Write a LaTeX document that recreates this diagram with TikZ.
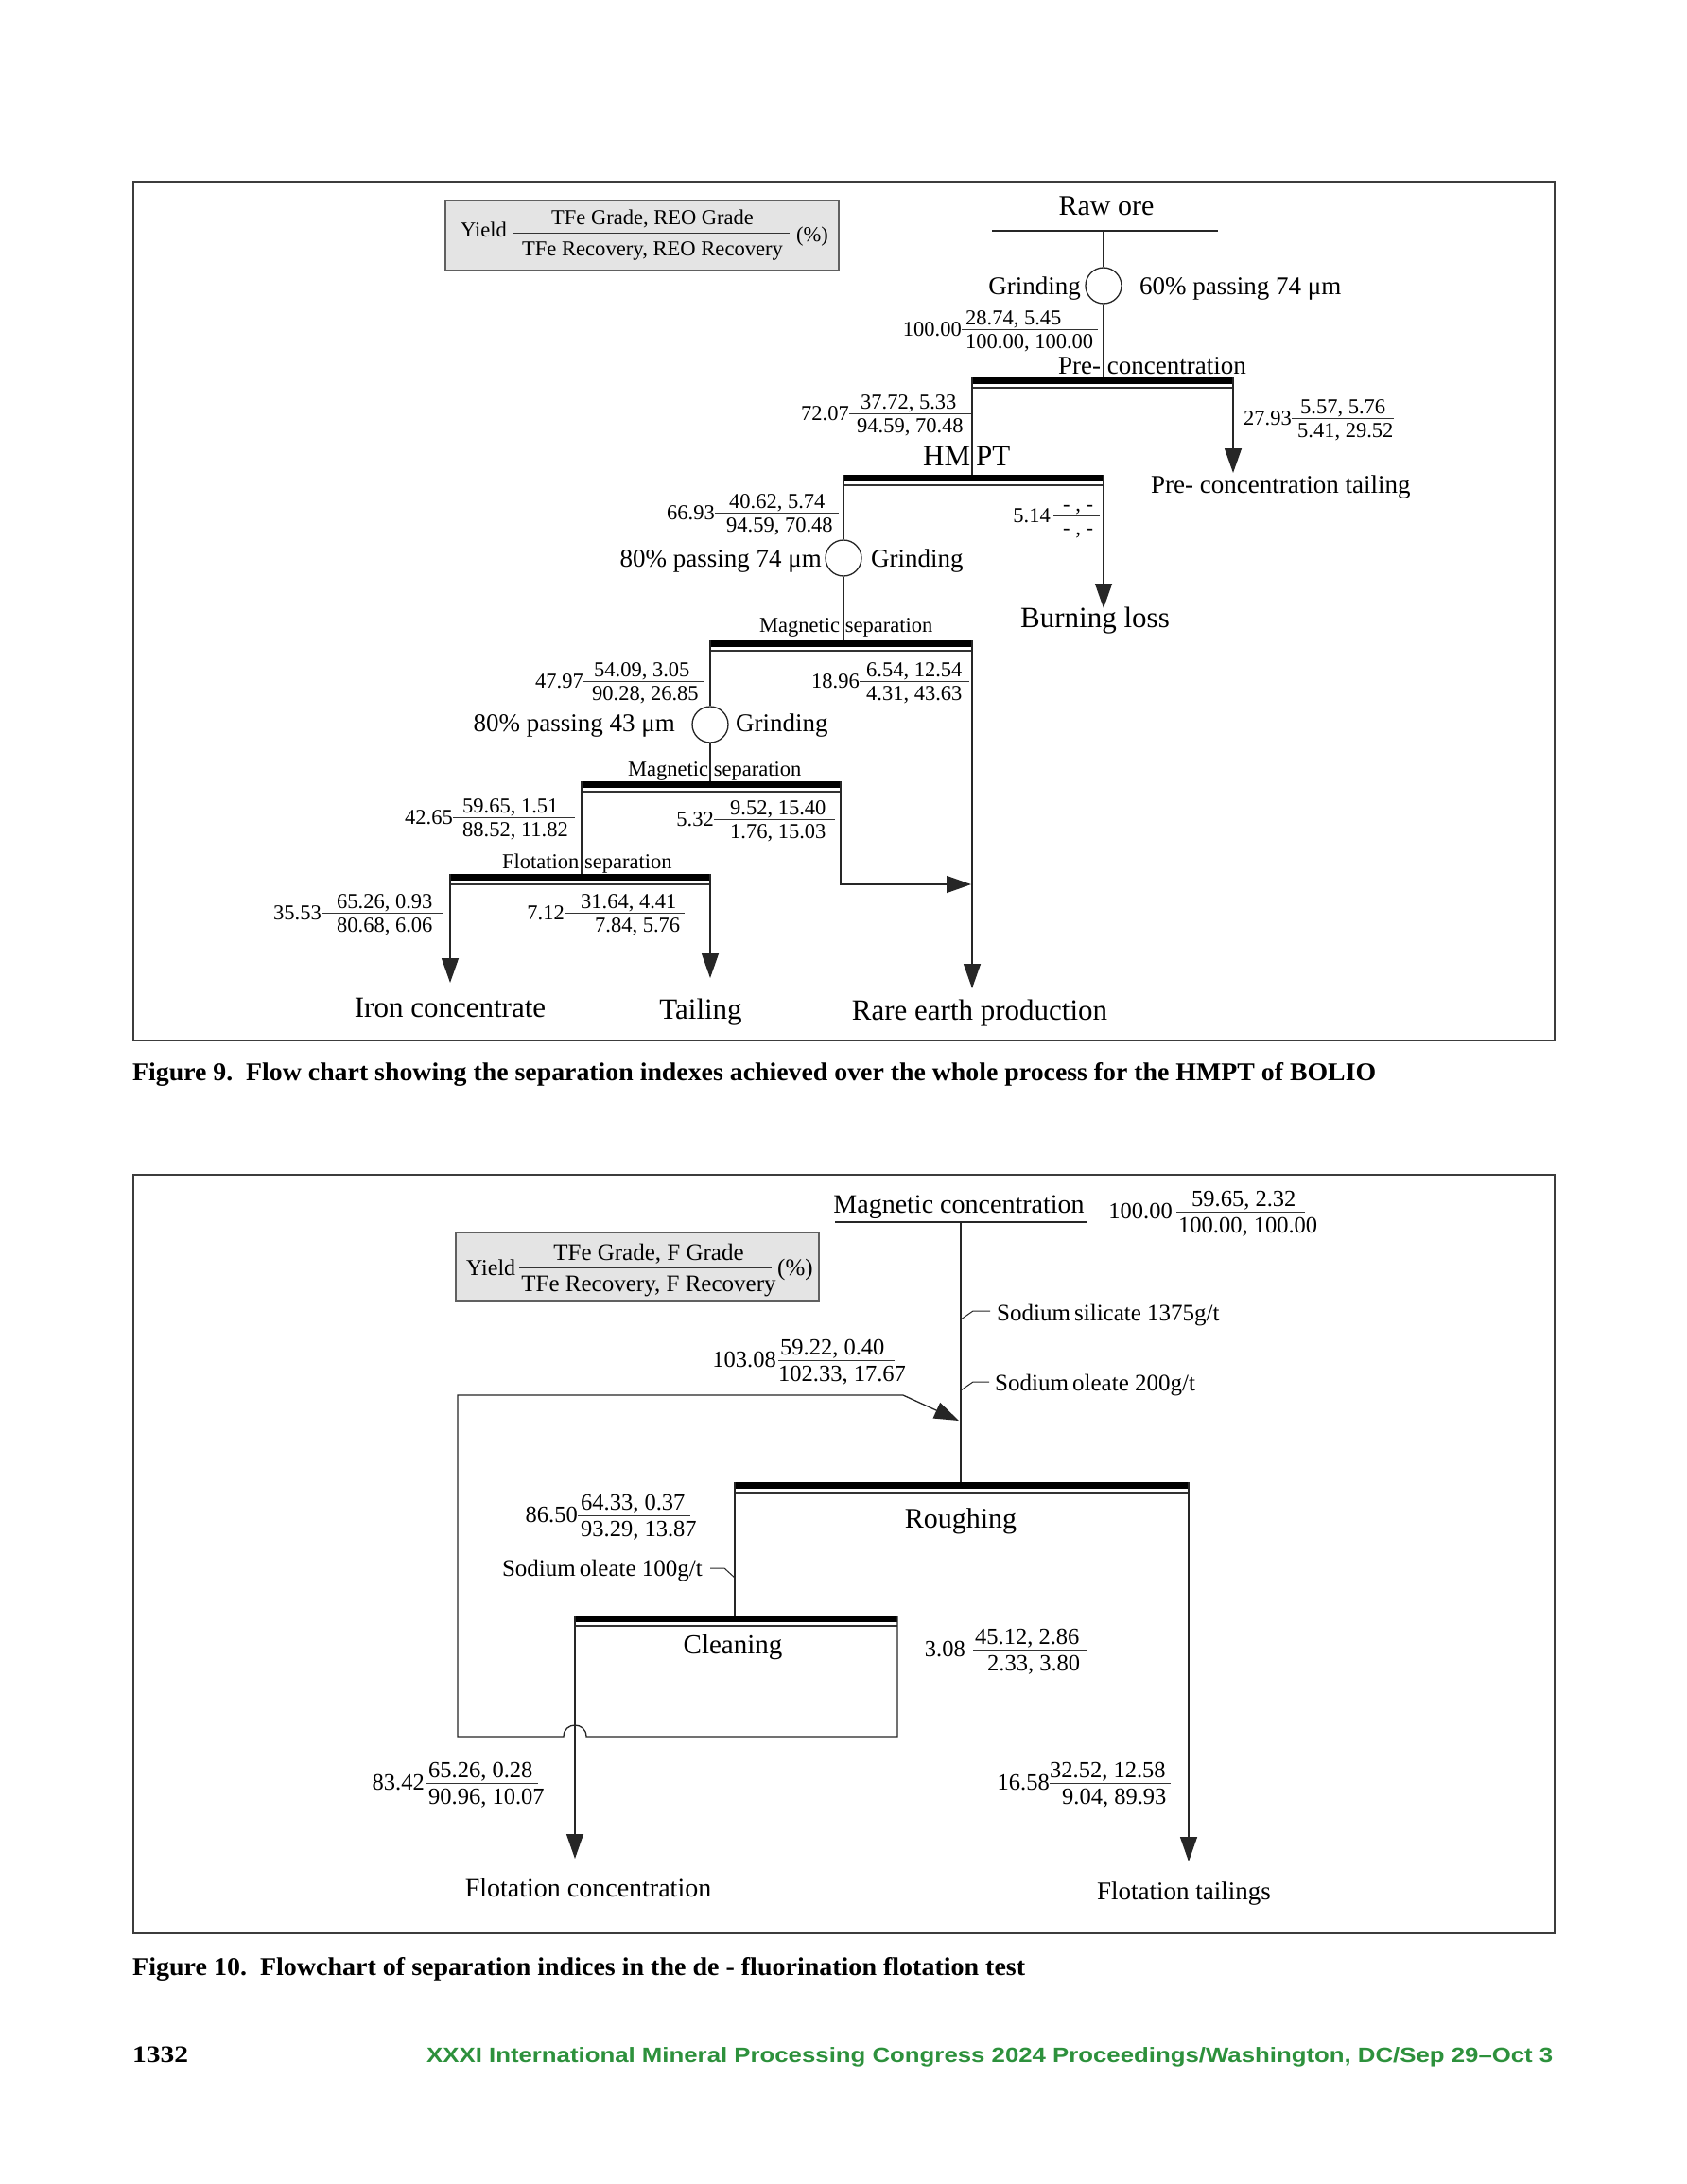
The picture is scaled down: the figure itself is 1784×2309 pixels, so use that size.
\documentclass[tikz,border=0pt]{standalone}
\usepackage{fontspec}
\usepackage{graphicx}
\setmainfont{Liberation Serif}
\newfontfamily\sansb{Liberation Sans}
\usetikzlibrary{arrows.meta}
\definecolor{framec}{HTML}{3C3C3C}
\definecolor{greenft}{RGB}{45,145,60}
\definecolor{legfill}{HTML}{E4E4E4}
\definecolor{legdraw}{HTML}{606060}
\newcommand\fs[1]{\fontsize{#1}{#1}\selectfont}
\newcommand\nup{5}
\newcommand\ndn{20}
\newcommand\procbar[4]{%
  \coordinate (#1L) at (#2,#4);
  \coordinate (#1R) at (#3,#4);
  \draw[line width=7pt, black] (#2,#4+3.5) -- (#3,#4+3.5);
  \draw[line width=1.2pt, black!80] (#2,#4+11) -- (#3,#4+11);
}
\newcommand\frc[9]{%
  \coordinate (#1a) at (#2,#4);
  \coordinate (#1b) at (#3,#4);
  \draw[fracl] (#1a) -- (#1b);
  \node[numt, anchor=east] (#1y) at (#1a) {#5};
  \node[numt, anchor=base west] (#1n) at (#6,#4-\nup) {#7};
  \node[numt, anchor=base west] (#1d) at (#8,#4+\ndn) {#9};
}
\begin{document}
\begin{tikzpicture}[x=1pt, y=-1pt,
  fl/.style={line width=1.3pt, draw=black!85},
  fracl/.style={line width=1pt, draw=black!80},
  arr/.style={fl, -{Triangle[length=26pt, width=18pt]}},
  numt/.style={font=\fs{22.5}, inner sep=0pt},
  lab/.style={font=\fs{27}, inner sep=0pt},
  big/.style={font=\fs{31}, inner sep=0pt},
  small/.style={font=\fs{22.5}, inner sep=0pt},
  reag/.style={font=\fs{25}, inner sep=0pt},
  circ/.style={circle, draw=black!85, line width=1.3pt, minimum size=38pt, inner sep=0pt},
  framest/.style={line width=2.5pt, draw=framec},
  legbox/.style={draw=legdraw, fill=legfill, line width=1.5pt, inner sep=0pt}]
\fill[white] (0,0) rectangle (1784,2309);
\useasboundingbox (0,0) rectangle (1784,2309);

% ================= Figure 9 =================
\draw[framest] (141,192) rectangle (1644,1100);
\node[legbox, minimum width=416pt, minimum height=74pt] (leg9) at (679,249) {};
\node[small, anchor=base west] (leg9y) at (487,251) {Yield};
\coordinate (leg9a) at (542,247); \coordinate (leg9b) at (835,247);
\draw[fracl] (leg9a) -- (leg9b);
\node[small, anchor=base] (leg9n) at (690,238) {TFe Grade, REO Grade};
\node[small, anchor=base] (leg9d) at (690,270) {\resizebox{276pt}{\height}{TFe Recovery, REO Recovery}};
\node[small, anchor=base west] (leg9p) at (842,256) {(\%)};

\node[font=\fs{30}, inner sep=0pt, anchor=base] (raw) at (1170,228) {Raw ore};
\coordinate (rawL) at (1049,244); \coordinate (rawR) at (1288,244); \coordinate (rawM) at (1167,244);
\draw[fl] (rawL) -- (rawR);
\node[circ] (c1) at (1167,302) {};
\draw[fl] (rawM) -- (c1.north);
\node[lab, anchor=base east] (g1) at (1143,311) {Grinding};
\node[lab, anchor=base west] (p1) at (1205,311) {60\% passing 74 μm};
\procbar{b1}{1028}{1304}{399}
\coordinate (b1in) at (1167,399);
\node[lab, anchor=base west] (pre) at (1119,395) {Pre- concentration};
\draw[fl] (c1.south) -- (b1in);
\frc{f1}{1017}{1161}{348}{100.00}{1021}{28.74, 5.45}{1021}{100.00, 100.00}

\procbar{b2}{892}{1167}{502}
\coordinate (b2in) at (1028,502);
\node[big, anchor=base west] (hmpt) at (976,492) {HM\kern6pt PT};
\draw[fl] (b1L) -- (b2in);
\coordinate (a1) at (1304,500);
\draw[arr] (b1R) -- (a1);
\frc{f2}{898}{1027}{437}{72.07}{910}{37.72, 5.33}{906}{94.59, 70.48}
\frc{f3}{1366}{1474}{442}{27.93}{1375}{5.57, 5.76}{1372}{5.41, 29.52}
\node[lab, anchor=base west] (pct) at (1217,521) {Pre- concentration tailing};

\node[circ] (c2) at (892,590) {};
\draw[fl] (b2L) -- (c2.north);
\node[lab, anchor=base east] (p2) at (869,599) {80\% passing 74 μm};
\node[lab, anchor=base west] (g2) at (921,599) {Grinding};
\frc{f4}{756}{887}{542}{66.93}{771}{40.62, 5.74}{768}{94.59, 70.48}
\frc{f5}{1114}{1163}{545}{5.14\kern3pt}{1124}{- , -}{1124}{- , -}
\coordinate (a2) at (1167,643);
\draw[arr] (b2R) -- (a2);
\node[big, anchor=base west] (burn) at (1079,663) {Burning loss};

\procbar{b3}{751}{1028}{677}
\coordinate (b3in) at (892,677);
\node[small, anchor=base west] (ms1) at (803,668) {Magnetic separation};
\draw[fl] (c2.south) -- (b3in);
\frc{f6}{617}{745}{720}{47.97}{628}{54.09, 3.05}{626}{90.28, 26.85}
\frc{f7}{909}{1025}{720}{18.96}{916}{6.54, 12.54}{916}{4.31, 43.63}
\node[circ] (c3) at (751,766) {};
\draw[fl] (b3L) -- (c3.north);
\node[lab, anchor=base east] (p3) at (714,773) {80\% passing 43 μm};
\node[lab, anchor=base west] (g3) at (778,773) {Grinding};

\procbar{b4}{615}{889}{826}
\coordinate (b4in) at (751,826);
\node[small, anchor=base west] (ms2) at (664,820) {Magnetic separation};
\draw[fl] (c3.south) -- (b4in);
\frc{f8}{479}{608}{864}{42.65}{489}{59.65, 1.51}{489}{88.52, 11.82}
\frc{f9}{755}{883}{866}{5.32}{772}{9.52, 15.40}{772}{1.76, 15.03}
\coordinate (b4c) at (889,935); \coordinate (a4) at (1027,935);
\draw[arr] (b4R) -- (b4c) -- (a4);

\procbar{b5}{476}{751}{924}
\coordinate (b5in) at (615,924);
\node[small, anchor=base west] (fsep) at (531,918) {Flotation separation};
\draw[fl] (b4L) -- (b5in);
\frc{f10}{340}{469}{965}{35.53}{356}{65.26, 0.93}{356}{80.68, 6.06}
\frc{f11}{597}{724}{965}{7.12}{614}{31.64, 4.41}{629}{7.84, 5.76}
\coordinate (a3) at (1028,1045); \draw[arr] (b3R) -- (a3);
\coordinate (a5) at (476,1039); \draw[arr] (b5L) -- (a5);
\coordinate (a6) at (751,1034); \draw[arr] (b5R) -- (a6);
\node[big, anchor=base] (iron) at (476,1075) {Iron concentrate};
\node[big, anchor=base] (tail) at (741,1077) {Tailing};
\node[big, anchor=base] (ree) at (1036,1078) {Rare earth production};

\node[anchor=base west, inner sep=0pt, font=\fs{27}\bfseries] (cap9) at (140,1142)
  {\resizebox{1315pt}{\height}{Figure 9.\ \ Flow chart showing the separation indexes achieved over the whole process for the HMPT of BOLIO}};

% ================= Figure 10 =================
\begin{scope}[numt/.style={font=\fs{24.5}, inner sep=0pt}]
\renewcommand\nup{6}\renewcommand\ndn{22}
\draw[framest] (141,1242) rectangle (1644,2044);
\node[legbox, minimum width=384pt, minimum height=72pt] (leg10) at (674,1339) {};
\node[font=\fs{24}, inner sep=0pt, anchor=base west] (leg10y) at (493,1348) {Yield};
\coordinate (leg10a) at (549,1340); \coordinate (leg10b) at (816,1340);
\draw[fracl] (leg10a) -- (leg10b);
\node[reag, anchor=base] (leg10n) at (686,1332) {TFe Grade, F Grade};
\node[reag, anchor=base] (leg10d) at (686,1365) {TFe Recovery, F Recovery};
\node[reag, anchor=base west] (leg10p) at (822,1348) {(\%)};

\node[font=\fs{28}, inner sep=0pt, anchor=base] (magc) at (1014,1282) {Magnetic concentration};
\coordinate (mcL) at (883,1292); \coordinate (mcR) at (1150,1292); \coordinate (mcM) at (1016,1292);
\draw[fl] (mcL) -- (mcR);
\frc{f12}{1244}{1380}{1281}{100.00\kern4pt}{1260}{59.65, 2.32}{1246}{100.00, 100.00}

\coordinate (s1a) at (1016,1395); \coordinate (s1b) at (1047,1386);
\draw[fl, line width=1pt] (s1a) -- (1029,1386) -- (s1b);
\node[reag, anchor=base west] (sil) at (1054,1396) {Sodium\,silicate 1375g/t};
\coordinate (s2a) at (1016,1470); \coordinate (s2b) at (1046,1461);
\draw[fl, line width=1pt] (s2a) -- (1029,1461) -- (s2b);
\node[reag, anchor=base west] (ole2) at (1052,1470) {Sodium\,oleate 200g/t};

\frc{f13}{823}{946}{1438}{103.08\kern2pt}{825}{59.22, 0.40}{823}{102.33, 17.67}

\procbar{b6}{777}{1257}{1567}
\coordinate (b6in) at (1016,1567);
\draw[fl] (mcM) -- (b6in);
\node[font=\fs{30}, inner sep=0pt, anchor=base] (rough) at (1016,1615) {Roughing};
\frc{f14}{611}{730}{1602}{86.50}{614}{64.33, 0.37}{614}{93.29, 13.87}

\node[reag, anchor=base east] (ole1) at (743,1666) {Sodium\,oleate 100g/t};
\coordinate (s3a) at (751,1658); \coordinate (s3b) at (777,1668);
\draw[fl, line width=1pt] (s3a) -- (766,1658) -- (s3b);

\procbar{b7}{608}{949}{1708}
\coordinate (b7in) at (777,1708);
\draw[fl] (b6L) -- (b7in);
\node[font=\fs{29}, inner sep=0pt, anchor=base] (clean) at (775,1748) {Cleaning};
\frc{f15}{1029}{1150}{1744}{3.08\kern8pt}{1031}{45.12, 2.86}{1044}{2.33, 3.80}

% recycle of cleaner tailing
\coordinate (rc1) at (949,1836); \coordinate (rc2) at (484,1836);
\coordinate (rc3) at (484,1475); \coordinate (rc4) at (955,1475);
\coordinate (rcT) at (1014,1502);
\draw[fl] (b7R) -- (rc1) -- (620,1836) .. controls (620,1820) and (596,1820) .. (596,1836) -- (rc2) -- (rc3) -- (rc4);
\draw[arr] (rc4) -- (rcT);

\coordinate (a7) at (1257,1968); \draw[arr] (b6R) -- (a7);
\coordinate (a8) at (608,1965); \draw[arr] (b7L) -- (a8);
\frc{f16}{451}{569}{1885}{83.42\kern2pt}{453}{65.26, 0.28}{453}{90.96, 10.07}
\frc{f17}{1110}{1238}{1885}{16.58}{1110}{32.52, 12.58}{1123}{9.04, 89.93}
\node[font=\fs{28}, inner sep=0pt, anchor=base] (fconc) at (622,2005) {Flotation concentration};
\node[font=\fs{27}, inner sep=0pt, anchor=base] (ftail) at (1252,2008) {Flotation tailings};
\end{scope}

\node[anchor=base west, inner sep=0pt, font=\fs{27}\bfseries] (cap10) at (140,2088)
  {\resizebox{944pt}{\height}{Figure 10.\ \ Flowchart of separation indices in the de - fluorination flotation test}};

% footer
\node[anchor=base west, inner sep=0pt, font=\fs{25}\bfseries] (pg) at (140,2180) {\resizebox{59pt}{\height}{1332}};
\node[anchor=base west, inner sep=0pt, font=\sansb\bfseries\fs{22}, text=greenft] (foot) at (451,2180)
  {\resizebox{1191pt}{\height}{XXXI International Mineral Processing Congress 2024 Proceedings/Washington, DC/Sep 29–Oct 3}};
\end{tikzpicture}
\end{document}
